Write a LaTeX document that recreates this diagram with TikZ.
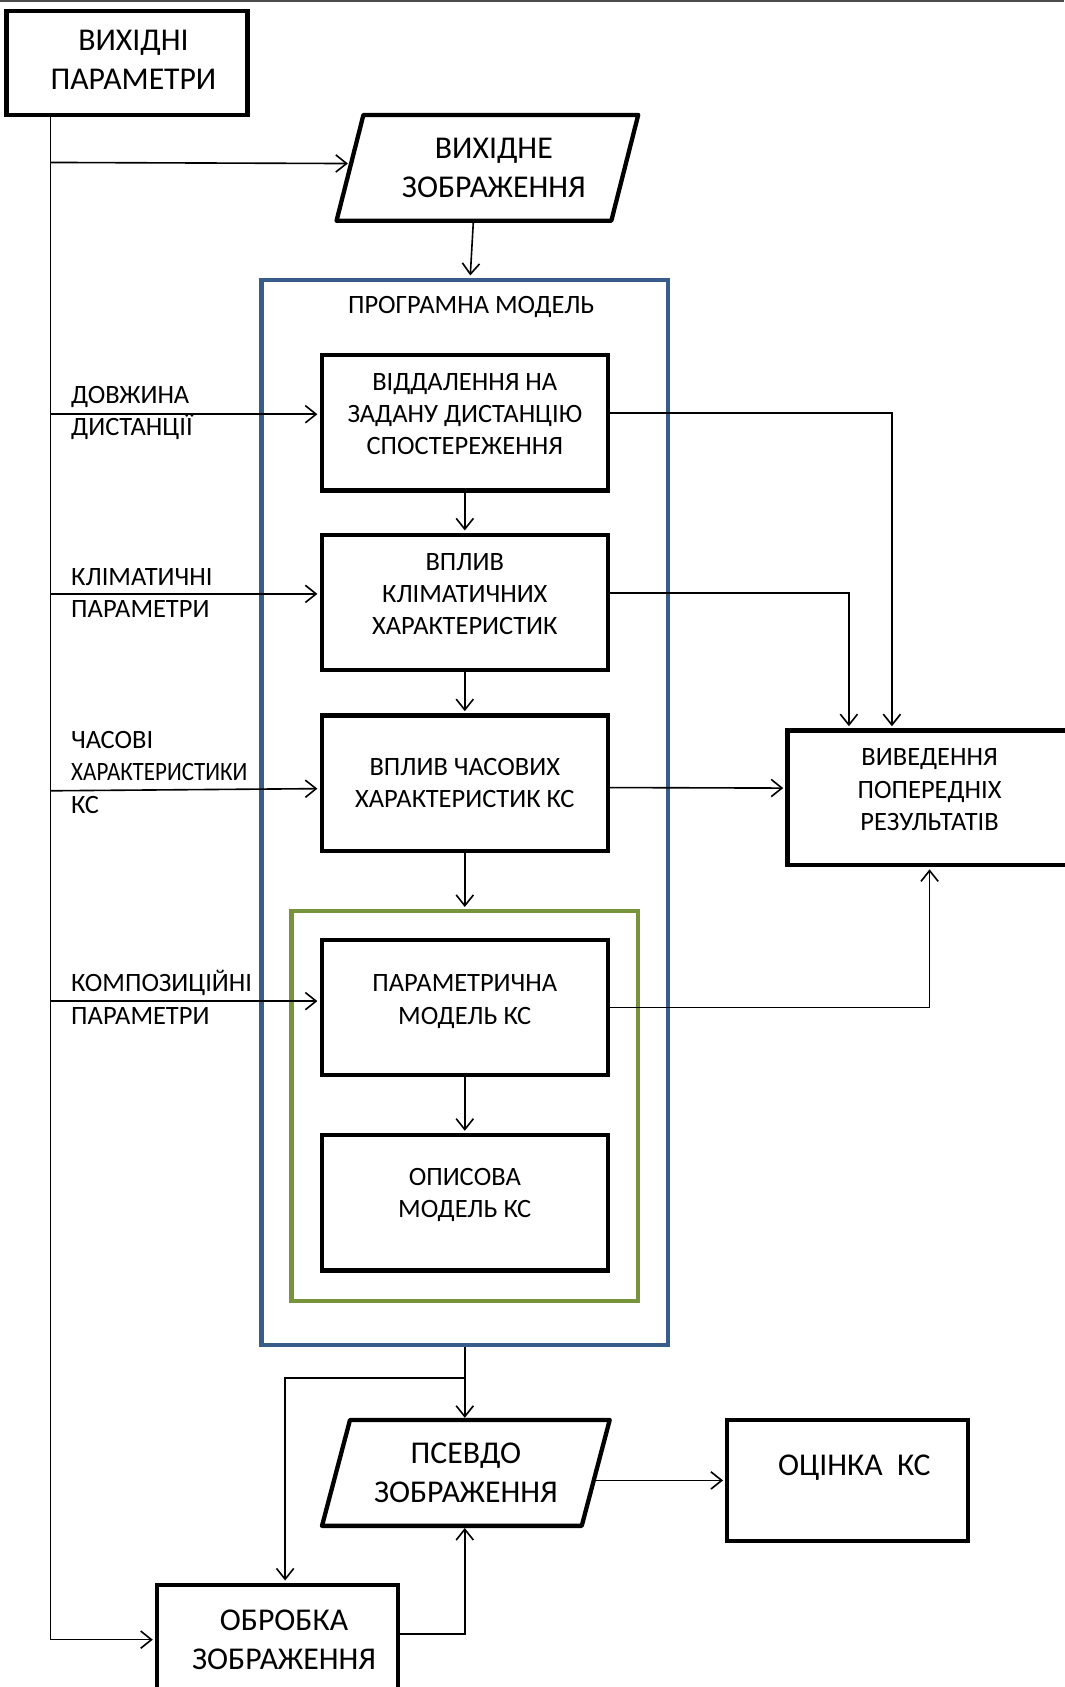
\documentclass[tikz,border=0pt]{standalone}
\usepackage{fontspec}
\setmainfont{Carlito}
\usetikzlibrary{arrows.meta,calc}
\definecolor{pmblue}{RGB}{56,93,138}
\definecolor{pmgreen}{RGB}{119,147,60}
\newcommand\fsmall{\fontsize{24.6}{30}\selectfont}
\newcommand\fbig{\fontsize{29.5}{36}\selectfont}
\begin{document}
\begin{tikzpicture}[x=1pt,y=-1pt,
  box/.style={draw=black, line width=4pt, rectangle, inner sep=0pt, align=center},
  ibox/.style={box, font=\fsmall, minimum width=266, minimum height=126},
  bbox/.style={box, font=\fbig, minimum width=224},
  ptext/.style={inner sep=0pt, align=center, font=\fbig},
  pbox/.style={draw=black, line width=4pt, line join=round},
  side/.style={inner sep=0pt, anchor=west, align=left, font=\fsmall},
  conn/.style={line width=1.5pt},
  arr/.style={conn, -{Straight Barb[length=10pt,width=16pt,line width=1.5pt]}, shorten >=2pt}
]
\useasboundingbox (0,0) rectangle (989,1568);
% top rule
\coordinate (tl) at (0,0.75);
\coordinate (tr) at (989,0.75);
\draw[gray!60!black, line width=1.5pt] (tl) -- (tr);

% source parameters
\node[bbox, minimum height=97, text depth=6pt] (A) at (118,58.5) {\hspace*{12pt}ВИХІДНІ\\\hspace*{12pt}ПАРАМЕТРИ};

% source image (parallelogram)
\node[ptext, minimum width=255, minimum height=98] (B) at (453,156) {\hspace*{12pt}ВИХІДНЕ\\\hspace*{12pt}ЗОБРАЖЕННЯ};
\draw[pbox] ($(B.north west)+(12.5,0)$) -- ($(B.north east)+(12.5,0)$) -- ($(B.south east)+(-12.5,0)$) -- ($(B.south west)+(-12.5,0)$) -- cycle;

% program model
\node[draw=pmblue, line width=4pt, minimum width=378, minimum height=990, inner sep=0pt] (PM) at (432,755) {};
\node[inner sep=0pt, font=\fsmall] (PMl) at (438,285) {ПРОГРАМНА МОДЕЛЬ};
\node[draw=pmgreen, line width=4pt, minimum width=322, minimum height=362, inner sep=0pt] (G) at (432,1028) {};

\node[ibox, text depth=16pt] (b1) at (432,393) {ВІДДАЛЕННЯ НА\\ЗАДАНУ ДИСТАНЦІЮ\\СПОСТЕРЕЖЕННЯ};
\node[ibox, text depth=16pt] (b2) at (432,560) {ВПЛИВ\\КЛІМАТИЧНИХ\\ХАРАКТЕРИСТИК};
\node[ibox] (b3) at (432,728) {ВПЛИВ ЧАСОВИХ\\ХАРАКТЕРИСТИК КС};
\node[ibox, minimum height=125, text depth=15pt] (b4) at (432,936.5) {ПАРАМЕТРИЧНА\\МОДЕЛЬ КС};
\node[ibox, text depth=18pt] (b5) at (432,1118) {ОПИСОВА\\МОДЕЛЬ КС};

% preliminary results
\node[box, font=\fsmall, minimum width=264, minimum height=125, text depth=15pt] (R) at (864,741.5) {ВИВЕДЕННЯ\\ПОПЕРЕДНІХ\\РЕЗУЛЬТАТІВ};

% pseudo image
\node[ptext, minimum width=241, minimum height=98] (P) at (433,1369) {ПСЕВДО\\ЗОБРАЖЕННЯ};
\draw[pbox] ($(P.north west)+(13,0)$) -- ($(P.north east)+(13,0)$) -- ($(P.south east)+(-13,0)$) -- ($(P.south west)+(-13,0)$) -- cycle;

\node[bbox, minimum height=112, text depth=28pt] (OC) at (788,1376) {\hspace*{12pt}ОЦІНКА~\ КС};
\node[bbox, minimum height=102] (OB) at (258,1524) {\hspace*{12pt}ОБРОБКА\\\hspace*{12pt}ЗОБРАЖЕННЯ};

% side labels
\node[side] (l1) at (66,384) {ДОВЖИНА\\ДИСТАНЦІЇ};
\node[side] (l2) at (66,551) {КЛІМАТИЧНІ\\ПАРАМЕТРИ};
\node[side] (l3) at (66,718) {ЧАСОВІ\\\scalebox{0.87}[1]{ХАРАКТЕРИСТИКИ}\\КС};
\node[side] (l4) at (66,927) {КОМПОЗИЦІЙНІ\\ПАРАМЕТРИ};

% connectors
\coordinate (L0) at ($(A.south west)+(43,0)$);
\draw[arr] (L0) |- (OB.west);
\draw[arr] ($(L0)+(0,42)$) -- ($(B.west)+(0,-4)$);
\draw[arr] ($(B.south)+(-13,0)$) -- ($(PM.north)+(5,0)$);

\coordinate (t1) at ($(b1.west)+(0,-8)$);
\coordinate (t2) at ($(b2.west)+(0,-8)$);
\coordinate (t3) at ($(b3.west)+(0,5)$);
\coordinate (t4) at ($(b4.west)+(0,-6)$);
\draw[arr] (L0 |- t1) -- (t1);
\draw[arr] (L0 |- t2) -- (t2);
\draw[arr] ($(L0 |- t3)+(0,2)$) -- (t3);
\draw[arr] (L0 |- t4) -- (t4);

\draw[arr] (b1.south) -- (b2.north);
\draw[arr] (b2.south) -- (b3.north);
\draw[arr] (b3.south) -- (G.north);
\draw[arr] (b4.south) -- (b5.north);

\draw[arr] ($(b1.east)+(0,-9)$) -| ($(R.north)+(-35,0)$);
\draw[arr] ($(b2.east)+(0,-9)$) -| ($(R.north)+(-75,0)$);
\draw[arr] ($(b3.east)+(0,4)$) -- ($(R.west)+(0,-9)$);
\draw[arr] (b4.east) -| (R.south);

\coordinate (br) at ($(PM.south)+(0,29)$);
\draw[arr] (PM.south) -- (PM.south |- P.north);
\draw[arr] (br) -| ($(OB.north)+(7,0)$);
\draw[arr] ($(OB.east)+(0,-5)$) -| (PM.south |- P.south);
\draw[arr] ($(P.east)+(-1.9,7)$) -- (OC.west);
\end{tikzpicture}
\end{document}
